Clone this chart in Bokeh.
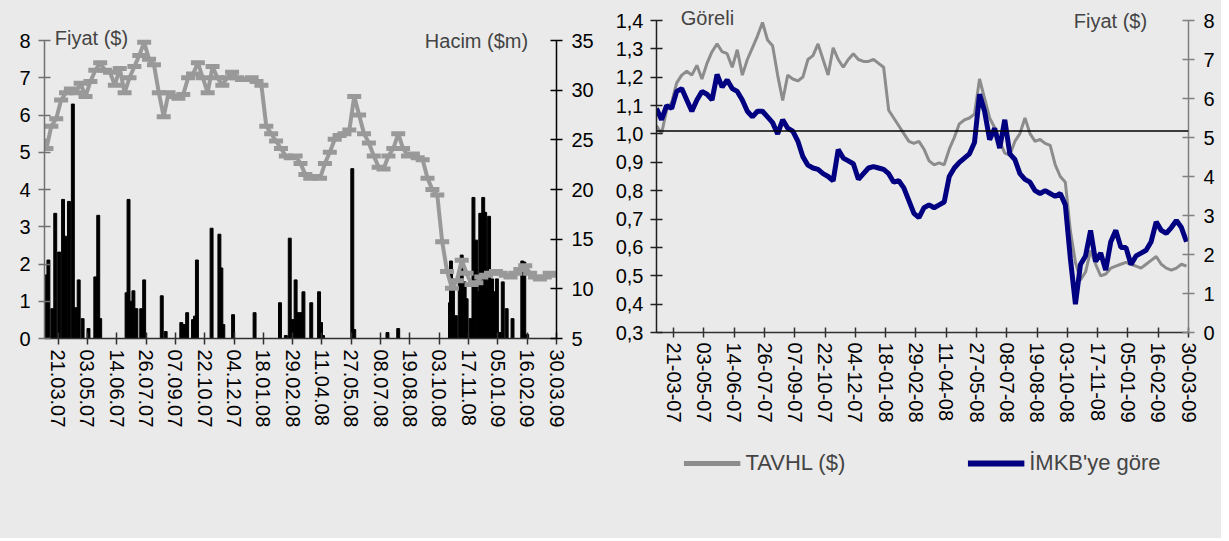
from bokeh.plotting import figure
from bokeh.models import (Range1d, LinearAxis, FixedTicker, Label, Span, Legend,
                          LegendItem, CustomJSTickFormatter)
from bokeh.layouts import row, column
from bokeh.embed import file_html
from bokeh.resources import INLINE

FONT = "Liberation Sans"
BG = "#EAEAEA"
FS = "20px"

# ---------------- data ----------------
# TAVHL price in USD, one value per 5 trading days
price = [5.3, 5.1, 5.7, 5.9, 6.4, 6.6, 6.7, 6.6, 6.85, 6.5,
         6.9, 7.2, 7.4, 7.2, 7.15, 6.8, 7.25, 6.6, 7.0, 7.3,
         7.6, 7.95, 7.5, 7.35, 6.6, 5.95, 6.6, 6.5, 6.45, 6.55,
         7.0, 7.1, 7.4, 7.0, 6.6, 7.3, 7.0, 6.8, 7.0, 7.15,
         7.0, 6.95, 6.95, 7.0, 6.9, 6.8, 5.7, 5.5, 5.3, 5.1,
         4.9, 4.85, 4.9, 4.7, 4.4, 4.3, 4.35, 4.3, 4.7, 5.0,
         5.35, 5.45, 5.5, 5.6, 6.5, 6.0, 5.5, 5.25, 4.9, 4.6,
         4.55, 4.9, 5.1, 5.5, 5.1, 4.9, 4.95, 4.85, 4.8, 4.3,
         4.0, 3.85, 2.6, 1.8, 1.35, 1.55, 2.1, 1.75, 1.45, 1.5,
         1.65, 1.7, 1.75, 1.8, 1.75, 1.7, 1.65, 1.75, 1.85, 1.95,
         1.75, 1.65, 1.6, 1.65, 1.75, 1.7]

# relative performance vs. ISE (Göreli)
relative = [1.09, 1.05, 1.10, 1.09, 1.15, 1.16, 1.12, 1.08, 1.12, 1.15,
            1.14, 1.12, 1.21, 1.165, 1.19, 1.16, 1.15, 1.12, 1.08, 1.06,
            1.08, 1.08, 1.06, 1.04, 1.00, 1.05, 1.02, 1.01, 0.975, 0.92,
            0.89, 0.88, 0.875, 0.86, 0.85, 0.835, 0.945, 0.915, 0.905, 0.895,
            0.84, 0.86, 0.88, 0.885, 0.88, 0.875, 0.86, 0.83, 0.835, 0.81,
            0.765, 0.72, 0.705, 0.74, 0.75, 0.74, 0.75, 0.76, 0.85, 0.88,
            0.90, 0.915, 0.93, 0.97, 1.14, 1.08, 0.98, 1.02, 0.95, 1.05,
            0.93, 0.91, 0.86, 0.84, 0.83, 0.80, 0.79, 0.80, 0.79, 0.78,
            0.79, 0.75, 0.56, 0.40, 0.54, 0.57, 0.66, 0.55, 0.58, 0.52,
            0.62, 0.66, 0.60, 0.60, 0.54, 0.57, 0.58, 0.59, 0.62, 0.69,
            0.66, 0.65, 0.67, 0.695, 0.67, 0.62]

days = list(range(0, 5 * len(price), 5))  # trading-day index of each value

# traded volume ($m): trading-day index and value
vol_days = [4, 7, 11, 14, 18, 22, 24, 28, 32, 35,
            38, 42, 48, 55, 58, 60, 87, 89, 91, 94,
            97, 102, 105, 123, 127, 143, 146, 149, 155, 157,
            159, 174, 182, 184, 186, 196, 218, 244, 250, 254,
            257, 260, 263, 266, 268, 276, 284, 286, 288, 318,
            320, 354, 365, 418, 419, 421, 424, 428, 430, 433,
            435, 439, 442, 445, 448, 449, 452, 454, 456, 458,
            461, 464, 466, 469, 472, 476, 482, 492, 494, 497]
vol = [11.4, 12.9, 8.0, 17.6, 13.7, 19.0, 15.3, 18.8, 28.6, 8.1,
       10.9, 7.0, 6.0, 11.2, 17.4, 7.0, 9.6, 19.0, 8.75, 9.8,
       8.0, 8.0, 10.9, 9.3, 5.7, 6.6, 6.4, 7.6, 6.9, 7.25,
       12.9, 16.1, 15.5, 12.1, 6.4, 7.4, 7.6, 8.6, 5.3, 15.1,
       6.9, 10.9, 7.6, 7.6, 9.7, 8.6, 9.7, 6.6, 5.3, 22.1,
       5.9, 5.6, 6.0, 8.6, 12.8, 11.0, 7.3, 11.0, 13.4, 10.7,
       9.0, 7.0, 19.2, 14.9, 9.7, 17.6, 19.2, 17.7, 10.7, 17.3,
       11.0, 9.7, 11.0, 5.6, 10.7, 8.0, 7.0, 12.8, 12.7, 5.4]

tick_labels_dot = ["21.03.07", "03.05.07", "14.06.07", "26.07.07", "07.09.07",
                   "22.10.07", "04.12.07", "18.01.08", "29.02.08", "11.04.08",
                   "27.05.08", "08.07.08", "19.08.08", "03.10.08", "17.11.08",
                   "05.01.09", "16.02.09", "30.03.09"]
tick_labels_dash = ["21-03-07", "03-05-07", "14-06-07", "26-07-07", "07-09-07",
                    "22-10-07", "04-12-07", "18-01-08", "29-02-08", "11-04-08",
                    "27-05-08", "08-07-08", "19-08-08", "03-10-08", "17-11-08",
                    "05-01-09", "16-02-09", "30-03-09"]
tick_days = [17 + 30 * i for i in range(len(tick_labels_dot))]

price_ticks = [0, 1, 2, 3, 4, 5, 6, 7, 8]
vol_ticks = [5, 10, 15, 20, 25, 30, 35]
rel_ticks = [0.3, 0.4, 0.5, 0.6, 0.7, 0.8, 0.9, 1.0, 1.1, 1.2, 1.3, 1.4]


def style_axis(ax, color="black", tin=6, tout=6, standoff=8):
    ax.axis_line_color = color
    ax.axis_line_width = 1.5
    ax.major_tick_line_color = color
    ax.major_tick_line_width = 1.5
    ax.major_tick_in = tin
    ax.major_tick_out = tout
    ax.minor_tick_line_color = None
    ax.major_label_text_font = FONT
    ax.major_label_text_font_size = FS
    ax.major_label_text_color = "black"
    ax.major_label_standoff = standoff


TOP = 5  # both frames start at the same top (row aligns top borders)

# ---------------- left panel: price + volume ----------------
H1 = 333  # frame 5..338; axis 0..8 spans the lower 298 px
p1 = figure(frame_width=512, frame_height=H1, title=None,
            x_range=Range1d(3, 527), y_range=Range1d(0, 8 * H1 / 298),
            output_backend="svg", toolbar_location=None,
            min_border_left=44, min_border_right=54, min_border_top=TOP,
            min_border_bottom=200, background_fill_color=BG, border_fill_color=BG,
            outline_line_color=None)
p1.grid.visible = False
p1.extra_y_ranges = {"vol": Range1d(5, 5 + 30 * H1 / 298)}

p1.vbar(x=vol_days, top=vol, bottom=5, width=3, y_range_name="vol",
        fill_color="black", line_color="black")
p1.line(days, price, line_color="#999999", line_width=4)
p1.scatter(days, price, marker="dash", size=14, line_color="#999999", line_width=5)

p1.yaxis[0].ticker = FixedTicker(ticks=price_ticks)
p1.yaxis[0].bounds = (0, 8)
style_axis(p1.yaxis[0], color="#707070", standoff=8)
p1.xaxis[0].ticker = FixedTicker(ticks=tick_days)
p1.xaxis[0].major_label_overrides = {d: l for d, l in zip(tick_days, tick_labels_dot)}
p1.xaxis[0].major_label_orientation = "vertical"
style_axis(p1.xaxis[0], color="#303030", standoff=5)

ax_vol = LinearAxis(y_range_name="vol", ticker=FixedTicker(ticks=vol_ticks), bounds=(5, 35))
style_axis(ax_vol, color="black", standoff=9)
p1.add_layout(ax_vol, "right")

p1.add_layout(Label(x=13.5, y=8, y_offset=3, text="Fiyat ($)", text_font=FONT,
                    text_font_size=FS, text_baseline="middle", text_align="left"))
p1.add_layout(Label(x=498, y=8, y_offset=0, text="Hacim ($m)", text_font=FONT,
                    text_font_size=FS, text_baseline="middle", text_align="right"))

# ---------------- right panel: relative + price ----------------
H2 = 327  # frame 5..332; 1.4 / 8 sit 15 px below the frame top
rel_px = (H2 - 15) / 1.1
pr_px = (H2 - 15) / 8
p2 = figure(frame_width=532, frame_height=H2, title=None,
            x_range=Range1d(0, 527), y_range=Range1d(0.3, 1.4 + 15 / rel_px),
            output_backend="svg", toolbar_location=None,
            min_border_left=46, min_border_right=33, min_border_top=TOP,
            min_border_bottom=100, background_fill_color=BG, border_fill_color=BG,
            outline_line_color=None)
p2.grid.visible = False
p2.extra_y_ranges = {"price": Range1d(0, 8 + 15 / pr_px)}

gray = p2.line(days, price, line_color="#8C8C8C", line_width=3, y_range_name="price")
blue = p2.line(days, relative, line_color="#000080", line_width=5)
p2.add_layout(Span(location=1.01, dimension="width", line_color="black", line_width=1.5))

p2.yaxis[0].ticker = FixedTicker(ticks=rel_ticks)
p2.yaxis[0].bounds = (0.3, 1.4)
p2.yaxis[0].formatter = CustomJSTickFormatter(code="return tick.toFixed(1).replace('.', ',');")
style_axis(p2.yaxis[0], color="#202020", standoff=7)
p2.xaxis[0].ticker = FixedTicker(ticks=tick_days)
p2.xaxis[0].major_label_overrides = {d: l for d, l in zip(tick_days, tick_labels_dash)}
p2.xaxis[0].major_label_orientation = "vertical"
style_axis(p2.xaxis[0], color="#303030", tin=5, tout=5, standoff=5)

ax_pr = LinearAxis(y_range_name="price", ticker=FixedTicker(ticks=price_ticks), bounds=(0, 8))
style_axis(ax_pr, color="#808080", standoff=9)
p2.add_layout(ax_pr, "right")

p2.add_layout(Label(x=24, y=1.4, y_offset=3, text="Göreli", text_font=FONT,
                    text_font_size=FS, text_baseline="middle", text_align="left"))
p2.add_layout(Label(x=486, y=1.4, y_offset=0, text="Fiyat ($)", text_font=FONT,
                    text_font_size=FS, text_baseline="middle", text_align="right"))

# ---------------- legend strip under the right panel ----------------
p_leg = figure(frame_width=532, frame_height=106, title=None,
               x_range=Range1d(0, 1), y_range=Range1d(0, 1),
               x_axis_location=None, y_axis_location=None,
               output_backend="svg", toolbar_location=None,
               min_border_left=46, min_border_right=33, min_border_top=0,
               min_border_bottom=0, background_fill_color=BG, border_fill_color=BG,
               outline_line_color=None)
p_leg.grid.visible = False
nan = float("nan")
leg_gray = p_leg.line(x=[nan], y=[nan], line_color="#8C8C8C", line_width=5)
leg_blue = p_leg.line(x=[nan], y=[nan], line_color="#000080", line_width=6)
legend = Legend(items=[LegendItem(label="TAVHL ($)", renderers=[leg_gray]),
                       LegendItem(label="İMKB'ye göre", renderers=[leg_blue])],
                orientation="horizontal", location="top_center",
                glyph_width=57, glyph_height=20, label_standoff=5, spacing=122,
                background_fill_alpha=0, border_line_color=None, padding=10,
                label_text_font=FONT, label_text_font_size="22px", margin=18)
p_leg.add_layout(legend)

right_col = column(p2, p_leg, spacing=0, styles={"background-color": BG})
layout = row(p1, right_col, spacing=0, styles={"background-color": BG})
open("out.html", "w").write(file_html(layout, INLINE))
